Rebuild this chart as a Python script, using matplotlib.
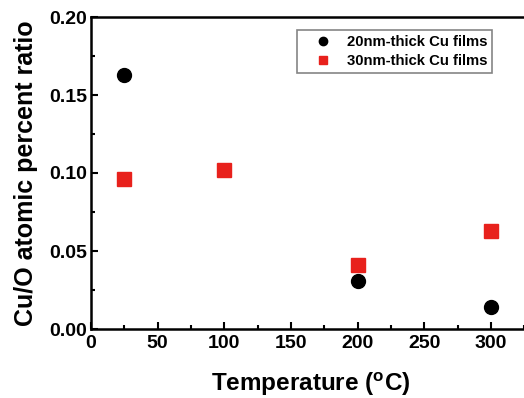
import matplotlib
matplotlib.use('Agg')
import matplotlib.pyplot as plt
from matplotlib.ticker import MultipleLocator

plt.rcParams['font.family'] = ['Liberation Sans', 'DejaVu Sans']
plt.rcParams['font.weight'] = 'bold'
plt.rcParams['mathtext.fontset'] = 'custom'
plt.rcParams['mathtext.bf'] = 'Liberation Sans:bold'
plt.rcParams['mathtext.rm'] = 'Liberation Sans:bold'

temp_20 = [25, 200, 300]
ratio_20 = [0.163, 0.031, 0.014]
temp_30 = [25, 100, 200, 300]
ratio_30 = [0.096, 0.102, 0.041, 0.063]

fig = plt.figure(figsize=(5.24, 3.98), dpi=100)
# right spine falls outside the picture, as in the cropped original
ax = fig.add_axes([91 / 524, 69 / 398, 440 / 524, 312 / 398])

ax.plot(temp_20, ratio_20, 'o', color='black', markersize=10,
        label='20nm-thick Cu films')
ax.plot(temp_30, ratio_30, 's', color='#e8211c', markersize=9.5,
        label='30nm-thick Cu films')

ax.set_xlim(0, 330)
ax.set_ylim(0, 0.20)
ax.xaxis.set_major_locator(MultipleLocator(50))
ax.xaxis.set_minor_locator(MultipleLocator(25))
ax.yaxis.set_major_locator(MultipleLocator(0.05))
ax.yaxis.set_minor_locator(MultipleLocator(0.025))
ax.tick_params(which='both', direction='in', width=1.5, labelsize=14)
ax.tick_params(which='major', length=5)
ax.tick_params(which='minor', length=3)
ax.tick_params(axis='y', pad=3)
ax.tick_params(axis='x', pad=4)
ax.yaxis.set_major_formatter(plt.FormatStrFormatter('%.2f'))
for s in ax.spines.values():
    s.set_linewidth(1.8)

ax.set_xlabel(r'Temperature ($^{\mathrm{o}}$C)', fontsize=17.5,
              fontweight='bold', labelpad=13)
ax.set_ylabel('Cu/O atomic percent ratio', fontsize=18, fontweight='bold',
              labelpad=8)

leg = ax.legend(loc='upper left', bbox_to_anchor=(0.468, 0.958), fontsize=10.7,
                frameon=True, fancybox=False, edgecolor='#666666',
                handletextpad=0.2, markerscale=0.6, borderpad=0.35,
                labelspacing=0.3, borderaxespad=0, handlelength=2.8)
leg.get_frame().set_linewidth(1.2)

fig.savefig('out.png', dpi=100)
